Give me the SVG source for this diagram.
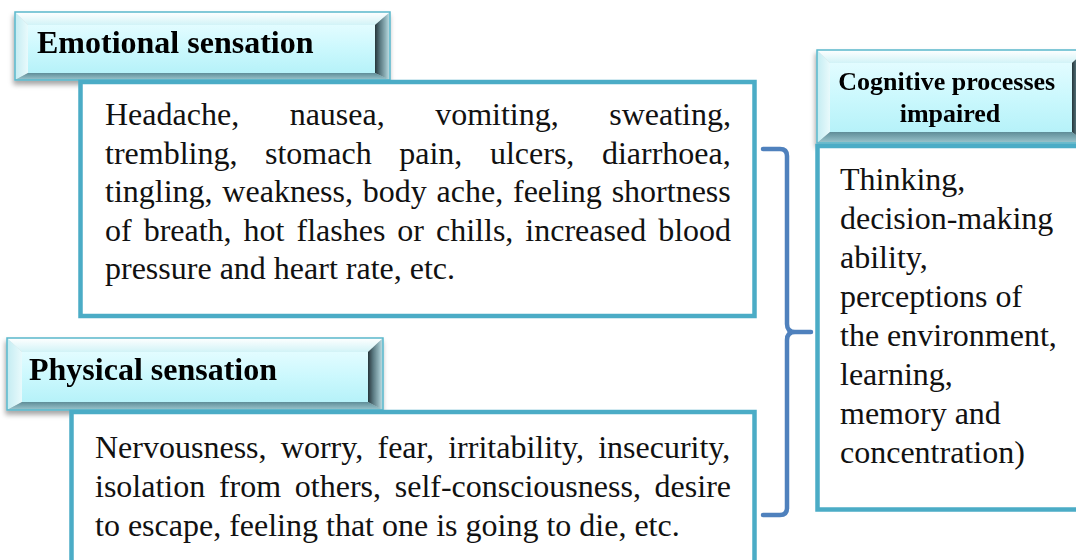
<svg xmlns="http://www.w3.org/2000/svg" width="1076" height="560" viewBox="0 0 1076 560">
  <defs>
    <style>
      .box { fill: #ffffff; stroke: #4bacc6; stroke-width: 4.5; }
      .body { font-family: "Liberation Serif", "Times New Roman", serif; font-size: 32px; fill: #111111; }
      .head { font-family: "Liberation Serif", "Times New Roman", serif; font-weight: bold; fill: #000000; }
      .face { fill: url(#gFace); }
      .bt { fill: url(#gTop); }
      .bl { fill: url(#gLeft); }
      .br { fill: url(#gRight); }
      .bb { fill: url(#gBottom); }
      .rim { fill: none; stroke: #5ab8cc; stroke-width: 1.5; }
      .brace { fill: none; stroke: #4f81bd; stroke-width: 4.5; stroke-linecap: round; stroke-linejoin: round; }
    </style>
    <linearGradient id="gFace" x1="0" y1="0" x2="0" y2="1">
      <stop offset="0" stop-color="#e2fcff"/>
      <stop offset="0.5" stop-color="#cbf8fd"/>
      <stop offset="1" stop-color="#b6f2f9"/>
    </linearGradient>
    <linearGradient id="gTop" x1="0" y1="0" x2="0" y2="1">
      <stop offset="0" stop-color="#ffffff"/>
      <stop offset="1" stop-color="#d2f3f7"/>
    </linearGradient>
    <linearGradient id="gLeft" x1="0" y1="0" x2="1" y2="0">
      <stop offset="0" stop-color="#c4ecf2"/>
      <stop offset="1" stop-color="#e8fafc"/>
    </linearGradient>
    <linearGradient id="gRight" x1="0" y1="0" x2="1" y2="0">
      <stop offset="0" stop-color="#26363b"/>
      <stop offset="0.35" stop-color="#5a7a82"/>
      <stop offset="0.7" stop-color="#8fb2b9"/>
      <stop offset="1" stop-color="#c4e4ea"/>
    </linearGradient>
    <linearGradient id="gBottom" x1="0" y1="0" x2="0" y2="1">
      <stop offset="0" stop-color="#5f8d98"/>
      <stop offset="1" stop-color="#9cc7cf"/>
    </linearGradient>
    <filter id="shadow" x="-10%" y="-20%" width="120%" height="150%">
      <feDropShadow dx="-1" dy="4" stdDeviation="2.5" flood-color="#000000" flood-opacity="0.35"/>
    </filter>
  </defs>

  <!-- Emotional sensation header (bevelled button) -->
  <g id="emotional-header" filter="url(#shadow)">
    <polygon class="bt" points="15,12 390,12 375,25 28,25"/>
    <polygon class="bl" points="15,12 28,25 28,73 15,80"/>
    <polygon class="br" points="375,25 390,12 390,80 375,73"/>
    <polygon class="bb" points="28,73 375,73 390,80 15,80"/>
    <rect class="face" x="28" y="25" width="347" height="48"/>
    <rect class="rim" x="15" y="12" width="375" height="68"/>
    <text class="head" x="37" y="53" font-size="32">Emotional sensation</text>
  </g>

  <!-- Emotional sensation description -->
  <g id="emotional-body">
    <rect class="box" x="80.5" y="82" width="674" height="234"/>
    <text class="body">
      <tspan x="105" y="125" word-spacing="42.5">Headache, nausea, vomiting, sweating,</tspan>
      <tspan x="105" y="164" word-spacing="19.6">trembling, stomach pain, ulcers, diarrhoea,</tspan>
      <tspan x="105" y="202" word-spacing="1.8">tingling, weakness, body ache, feeling shortness</tspan>
      <tspan x="105" y="241" word-spacing="4">of breath, hot flashes or chills, increased blood</tspan>
      <tspan x="105" y="279">pressure and heart rate, etc.</tspan>
    </text>
  </g>

  <!-- Physical sensation header -->
  <g id="physical-header" filter="url(#shadow)">
    <polygon class="bt" points="7,338 383,338 368,352 22,352"/>
    <polygon class="bl" points="7,338 22,352 22,402 7,410"/>
    <polygon class="br" points="368,352 383,338 383,410 368,402"/>
    <polygon class="bb" points="22,402 368,402 383,410 7,410"/>
    <rect class="face" x="22" y="352" width="346" height="50"/>
    <rect class="rim" x="7" y="338" width="376" height="72"/>
    <text class="head" x="29" y="380" font-size="32">Physical sensation</text>
  </g>

  <!-- Physical sensation description -->
  <g id="physical-body">
    <rect class="box" x="71.5" y="412" width="683" height="200"/>
    <text class="body">
      <tspan x="95" y="458" word-spacing="6.3">Nervousness, worry, fear, irritability, insecurity,</tspan>
      <tspan x="95" y="497" word-spacing="5.7">isolation from others, self-consciousness, desire</tspan>
      <tspan x="95" y="536">to escape, feeling that one is going to die, etc.</tspan>
    </text>
  </g>

  <!-- Cognitive processes header -->
  <g id="cognitive-header" filter="url(#shadow)">
    <polygon class="bt" points="817,50 1086,50 1072,63 830,63"/>
    <polygon class="bl" points="817,50 830,63 830,132 817,143"/>
    <polygon class="br" points="1072,63 1086,50 1086,143 1072,132"/>
    <polygon class="bb" points="830,132 1072,132 1086,143 817,143"/>
    <rect class="face" x="830" y="63" width="242" height="69"/>
    <rect class="rim" x="817" y="50" width="269" height="93"/>
    <text class="head" font-size="26" text-anchor="middle">
      <tspan x="950" y="90">Cognitive processes</tspan>
      <tspan x="950" y="122">impaired</tspan>
    </text>
  </g>

  <!-- Cognitive processes description -->
  <g id="cognitive-body">
    <rect class="box" x="817.5" y="146" width="300" height="363.5"/>
    <text class="body">
      <tspan x="840" y="190">Thinking,</tspan>
      <tspan x="840" y="229">decision-making</tspan>
      <tspan x="840" y="268">ability,</tspan>
      <tspan x="840" y="307">perceptions of</tspan>
      <tspan x="840" y="346">the environment,</tspan>
      <tspan x="840" y="385">learning,</tspan>
      <tspan x="840" y="424">memory and</tspan>
      <tspan x="840" y="463">concentration)</tspan>
    </text>
  </g>

  <!-- Connector: brace joining both sensations to the cognitive panel -->
  <g id="connectors">
    <path class="brace" d="M763,149 L780,149 Q787,149 787,156 L787,324 Q787,332 795,332 L811,332 M795,332 Q787,332 787,340 L787,508 Q787,515 780,515 L763,515"/>
  </g>
</svg>
